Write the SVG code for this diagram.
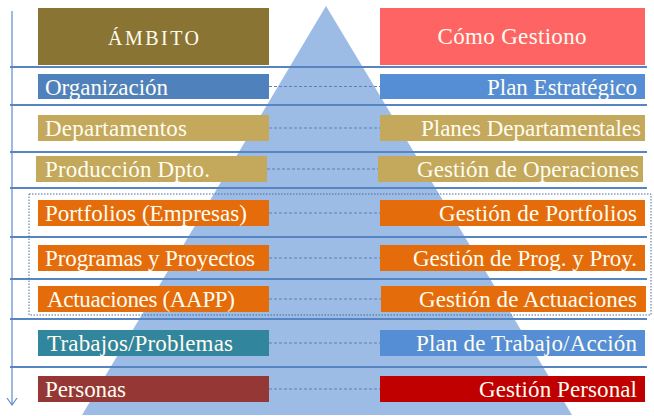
<svg xmlns="http://www.w3.org/2000/svg" width="654" height="416" viewBox="0 0 654 416">
<style>
.t{font-family:"Liberation Serif","Times New Roman",serif;font-size:23px;fill:#FFFDF2}
.l{text-anchor:start}
.r{text-anchor:end}
.c{text-anchor:middle}
.rule{stroke:#5685C2;stroke-width:2;fill:none}
.dash{stroke:#5B80BE;stroke-width:1.2;stroke-dasharray:3 2;fill:none}
</style>
<defs>
<marker id="arr" viewBox="0 0 10 12" refX="9" refY="6" markerWidth="10" markerHeight="12" markerUnits="userSpaceOnUse" orient="auto">
<path d="M2,1 L9,6 L2,11" fill="none" stroke="#5B8BCB" stroke-width="1.2"/>
</marker>
</defs>
<rect width="654" height="416" fill="#FFFFFF"/>
<polygon points="326,6 82,415 572,415" fill="#9DBCE5"/>
<line x1="12" y1="11" x2="12" y2="405" stroke="#5B8BCB" stroke-width="1.2" marker-end="url(#arr)"/>
<g id="rules">
<line class="rule" x1="10" y1="67" x2="647" y2="67"/>
<line class="rule" x1="10" y1="105" x2="647" y2="105"/>
<line class="rule" x1="10" y1="152" x2="647" y2="152"/>
<line class="rule" x1="10" y1="188" x2="647" y2="188"/>
<line class="rule" x1="10" y1="237" x2="647" y2="237"/>
<line class="rule" x1="10" y1="279" x2="647" y2="279"/>
<line class="rule" x1="10" y1="319" x2="647" y2="319"/>
<line class="rule" x1="10" y1="367" x2="647" y2="367"/>
</g>
<rect id="group-frame" x="29" y="194" width="622" height="121" fill="none" stroke="#4A6A9A" stroke-width="1" stroke-dasharray="1.5 1.5"/>
<g id="connectors">
<line class="dash" x1="269" y1="86.5" x2="380" y2="86.5"/>
<line class="dash" x1="269" y1="128" x2="380" y2="128"/>
<line class="dash" x1="267" y1="169" x2="378" y2="169"/>
<line class="dash" x1="269" y1="213" x2="380" y2="213"/>
<line class="dash" x1="269" y1="258" x2="380" y2="258"/>
<line class="dash" x1="269" y1="299" x2="381" y2="299"/>
<line class="dash" x1="269" y1="343" x2="380" y2="343"/>
<line class="dash" x1="269" y1="389" x2="380" y2="389"/>
</g>
<g id="ambito">
<rect x="38" y="8" width="231" height="57" fill="#8A7433"/>
<text class="t c" x="153.5" y="45" style="font-size:20px" textLength="91">ÁMBITO</text>
</g>
<g id="como-gestiono">
<rect x="380" y="8" width="265" height="57" fill="#FF6464"/>
<text class="t c" x="512" y="44" textLength="149">Cómo Gestiono</text>
</g>
<g id="organizacion">
<rect x="38" y="74" width="231" height="25" fill="#4F81BD"/>
<text class="t l" x="45" y="95" textLength="123">Organización</text>
</g>
<g id="plan-estrategico">
<rect x="380" y="74" width="265" height="25" fill="#558ED5"/>
<text class="t r" x="637" y="95" textLength="150">Plan Estratégico</text>
</g>
<g id="departamentos">
<rect x="38" y="115" width="231" height="26" fill="#C4A85B"/>
<text class="t l" x="45" y="136" textLength="142">Departamentos</text>
</g>
<g id="planes-departamentales">
<rect x="380" y="115" width="265" height="26" fill="#C4A85B"/>
<text class="t r" x="641" y="136" textLength="220">Planes Departamentales</text>
</g>
<g id="produccion">
<rect x="36" y="156" width="231" height="26" fill="#C4A85B"/>
<text class="t l" x="45" y="177" textLength="165">Producción Dpto.</text>
</g>
<g id="gestion-operaciones">
<rect x="378" y="156" width="265" height="26" fill="#C4A85B"/>
<text class="t r" x="639" y="177" textLength="222">Gestión de Operaciones</text>
</g>
<g id="portfolios">
<rect x="38" y="200" width="231" height="26" fill="#E46C0A"/>
<text class="t l" x="45" y="221" textLength="202">Portfolios (Empresas)</text>
</g>
<g id="gestion-portfolios">
<rect x="380" y="200" width="265" height="26" fill="#E46C0A"/>
<text class="t r" x="637" y="221" textLength="198">Gestión de Portfolios</text>
</g>
<g id="programas">
<rect x="38" y="245" width="231" height="26" fill="#E46C0A"/>
<text class="t l" x="45" y="266" textLength="210">Programas y Proyectos</text>
</g>
<g id="gestion-prog">
<rect x="380" y="245" width="265" height="26" fill="#E46C0A"/>
<text class="t r" x="637" y="266" textLength="224">Gestión de Prog. y Proy.</text>
</g>
<g id="actuaciones">
<rect x="38" y="286" width="231" height="26" fill="#E46C0A"/>
<text class="t l" x="47" y="307" textLength="188">Actuaciones (AAPP)</text>
</g>
<g id="gestion-actuaciones">
<rect x="381" y="286" width="265" height="26" fill="#E46C0A"/>
<text class="t r" x="637" y="307" textLength="218">Gestión de Actuaciones</text>
</g>
<g id="trabajos">
<rect x="38" y="330" width="231" height="26" fill="#31859C"/>
<text class="t l" x="47" y="351" textLength="186">Trabajos/Problemas</text>
</g>
<g id="plan-trabajo">
<rect x="380" y="330" width="265" height="26" fill="#558ED5"/>
<text class="t r" x="637" y="351" textLength="221">Plan de Trabajo/Acción</text>
</g>
<g id="personas">
<rect x="38" y="376" width="231" height="26" fill="#953735"/>
<text class="t l" x="45" y="397" textLength="81">Personas</text>
</g>
<g id="gestion-personal">
<rect x="380" y="376" width="265" height="26" fill="#C00000"/>
<text class="t r" x="637" y="397" textLength="158">Gestión Personal</text>
</g>
</svg>
